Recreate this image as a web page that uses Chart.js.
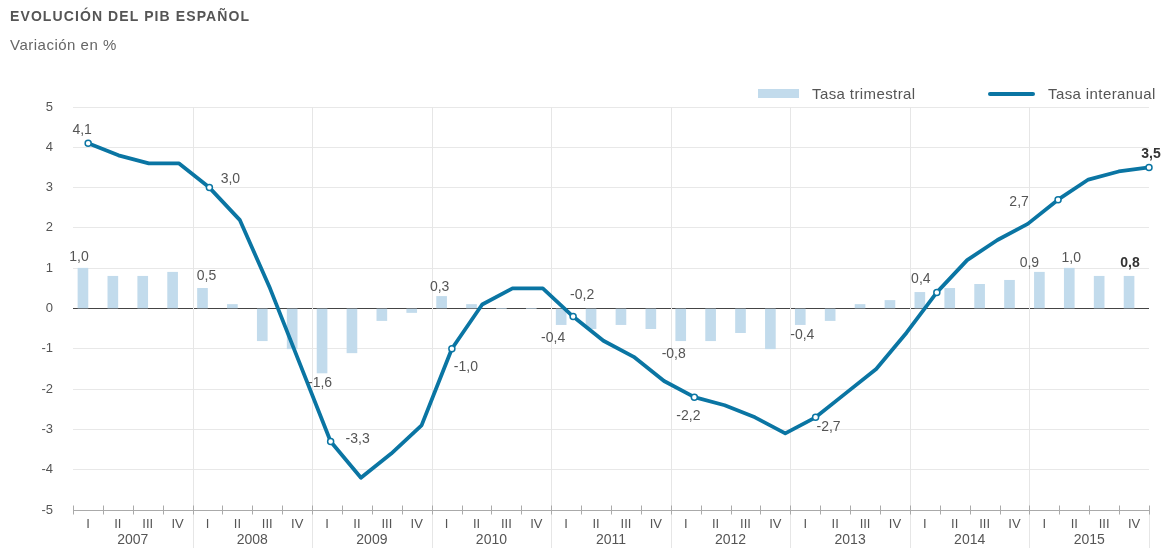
<!DOCTYPE html>
<html>
<head>
<meta charset="utf-8">
<script src="https://cdn.jsdelivr.net/npm/chart.js@4.4.1/dist/chart.umd.min.js"></script>
<style>
html,body{margin:0;padding:0;background:#fff;}
#wrap{position:relative;width:1165px;height:548px;font-family:"Liberation Sans",Arial,sans-serif;overflow:hidden;}
#title{position:absolute;left:10px;top:8px;font-weight:bold;font-size:14px;color:#555;letter-spacing:1.1px;}
#sub{position:absolute;left:10px;top:36px;font-size:15px;color:#666;letter-spacing:0.5px;}
#c{position:absolute;left:0;top:0;}
.lt{position:absolute;top:85px;font-size:15px;color:#555;line-height:17px;letter-spacing:0.4px;}
.sw{position:absolute;}
</style>
</head>
<body>
<div id="wrap">
  <canvas id="c" width="1165" height="548"></canvas>
  <div id="title">EVOLUCIÓN DEL PIB ESPAÑOL</div>
  <div id="sub">Variación en %</div>
  <div class="sw" style="left:758px;top:89px;width:41px;height:9px;background:#c2dbec;"></div>
  <div class="lt" style="left:812px;">Tasa trimestral</div>
  <div class="sw" style="left:988px;top:92px;width:47px;height:4px;background:#0a75a3;border-radius:2px;"></div>
  <div class="lt" style="left:1048px;">Tasa interanual</div>
</div>
<script>
// ---- data ----
const years = ['2007','2008','2009','2010','2011','2012','2013','2014','2015'];
const quarters = ['I','II','III','IV'];
const quarterLabels = years.flatMap(() => quarters);

// Tasa trimestral (bars)
const trimestral = [
  1.0, 0.8, 0.8, 0.9,
  0.5, 0.1, -0.8, -1.0,
  -1.6, -1.1, -0.3, -0.1,
  0.3, 0.1, 0.0, 0.0,
  -0.4, -0.5, -0.4, -0.5,
  -0.8, -0.8, -0.6, -1.0,
  -0.4, -0.3, 0.1, 0.2,
  0.4, 0.5, 0.6, 0.7,
  0.9, 1.0, 0.8, 0.8
];

// Tasa interanual (line)
const interanual = [
  4.1, 3.8, 3.6, 3.6,
  3.0, 2.2, 0.5, -1.4,
  -3.3, -4.2, -3.6, -2.9,
  -1.0, 0.1, 0.5, 0.5,
  -0.2, -0.8, -1.2, -1.8,
  -2.2, -2.4, -2.7, -3.1,
  -2.7, -2.1, -1.5, -0.6,
  0.4, 1.2, 1.7, 2.1,
  2.7, 3.2, 3.4, 3.5
];

const yTicks = [-5,-4,-3,-2,-1,0,1,2,3,4,5];

// which points are marked / labelled
const lineMarked = [0,4,8,12,16,20,24,28,32,35];
const barMarked = [0,4,8,12,16,20,24,32,33,35];

// ---- styles ----
const BAR_COLOR = '#c2dbec';
const LINE_COLOR = '#0a75a3';
const TEXT = '#555';
const FONT = '"Liberation Sans", Arial, sans-serif';

const lineLabelStyle = {
  0:[-6,-13], 4:[21,-8], 8:[27,-2], 12:[14,18], 16:[9,-21],
  20:[-6,19], 24:[13,10], 28:[-16,-13], 32:[-39,2], 35:[2,-13,true]
};
const barLabelStyle = {
  0:[-4,-11], 4:[4,-12], 8:[-2,10], 12:[-2,-9], 16:[-8,14],
  20:[-7,13], 24:[2,11], 32:[-10,-9], 33:[2,-10], 35:[1,-13,true]
};

const fmt = v => v.toFixed(1).replace('.', ',');

const decor = {
  id: 'decor',
  beforeDatasetsDraw(chart) {
    const {ctx, chartArea, scales} = chart;
    const x = scales.x;
    ctx.save();
    ctx.strokeStyle = '#e6e6e6';
    ctx.lineWidth = 1;
    for (let k = 1; k < years.length; k++) {
      const px = Math.round((x.getPixelForTick(4*k-1) + x.getPixelForTick(4*k)) / 2) + 0.5;
      ctx.beginPath();
      ctx.moveTo(px, chartArea.top);
      ctx.lineTo(px, 548);
      ctx.stroke();
    }
    const rx = Math.round(chartArea.right) + 0.5;
    ctx.beginPath();
    ctx.moveTo(rx, chartArea.bottom);
    ctx.lineTo(rx, 548);
    ctx.stroke();
    ctx.restore();
  },
  afterDatasetsDraw(chart) {
    const {ctx, chartArea, scales} = chart;
    const x = scales.x;
    ctx.save();
    // axis line + tick marks
    const ay = Math.round(chartArea.bottom) + 0.5;
    ctx.strokeStyle = '#aaa';
    ctx.lineWidth = 1;
    ctx.beginPath();
    ctx.moveTo(chartArea.left, ay);
    ctx.lineTo(chartArea.right, ay);
    ctx.stroke();
    for (let i = 0; i <= quarterLabels.length; i++) {
      let px;
      if (i === 0) px = chartArea.left;
      else if (i === quarterLabels.length) px = chartArea.right;
      else px = (x.getPixelForTick(i-1) + x.getPixelForTick(i)) / 2;
      px = Math.round(px) + 0.5;
      ctx.beginPath();
      ctx.moveTo(px, ay - 5);
      ctx.lineTo(px, ay + 4);
      ctx.stroke();
    }
    // quarter labels
    ctx.fillStyle = TEXT;
    ctx.textAlign = 'center';
    ctx.textBaseline = 'middle';
    ctx.font = '13px ' + FONT;
    quarterLabels.forEach((q, i) => {
      ctx.fillText(q, x.getPixelForTick(i), 524);
    });
    ctx.font = '14px ' + FONT;
    years.forEach((yr, k) => {
      const px = (x.getPixelForTick(4*k+1) + x.getPixelForTick(4*k+2)) / 2;
      ctx.fillText(yr, px, 540);
    });

    // data labels
    const barMeta = chart.getDatasetMeta(0);
    const lineMeta = chart.getDatasetMeta(1);
    barMarked.forEach(i => {
      const el = barMeta.data[i];
      const st = barLabelStyle[i];
      ctx.font = (st[2] ? 'bold ' : '') + '14px ' + FONT;
      ctx.fillStyle = st[2] ? '#333' : TEXT;
      ctx.fillText(fmt(trimestral[i]), el.x + st[0], el.y + st[1]);
    });
    lineMarked.forEach(i => {
      const el = lineMeta.data[i];
      const st = lineLabelStyle[i];
      ctx.font = (st[2] ? 'bold ' : '') + '14px ' + FONT;
      ctx.fillStyle = st[2] ? '#333' : TEXT;
      ctx.fillText(fmt(interanual[i]), el.x + st[0], el.y + st[1]);
    });
    ctx.restore();
  }
};

new Chart(document.getElementById('c'), {
  data: {
    labels: quarterLabels,
    datasets: [
      {
        type: 'bar',
        label: 'Tasa trimestral',
        data: trimestral,
        backgroundColor: BAR_COLOR,
        borderWidth: 0,
        barThickness: 10,
        order: 2,
        xAxisID: 'x',
        yAxisID: 'y'
      },
      {
        type: 'line',
        label: 'Tasa interanual',
        data: interanual.map((v, i) => ({x: i, y: v})),
        borderColor: LINE_COLOR,
        borderWidth: 3.8,
        tension: 0,
        borderJoinStyle: 'round',
        pointRadius: ctx => lineMarked.includes(ctx.dataIndex) ? 3 : 0,
        pointBackgroundColor: '#fff',
        pointBorderColor: LINE_COLOR,
        pointBorderWidth: 1.5,
        clip: false,
        order: 1,
        xAxisID: 'xl',
        yAxisID: 'y'
      }
    ]
  },
  options: {
    responsive: false,
    animation: false,
    events: [],
    layout: { padding: { top: 107, right: 16, bottom: 0, left: 0 } },
    plugins: { legend: { display: false }, tooltip: { enabled: false }, title: { display: false } },
    scales: {
      x: {
        type: 'category',
        offset: true,
        grid: { display: false, drawTicks: false },
        border: { display: false },
        ticks: { display: false },
        afterFit: s => { s.height = 38; }
      },
      xl: {
        type: 'linear',
        display: false,
        min: -0.5,
        max: 35
      },
      y: {
        min: -5,
        max: 5,
        afterBuildTicks: s => { s.ticks = yTicks.map(v => ({value: v})); },
        ticks: {
          color: TEXT,
          font: { family: FONT, size: 13 },
          padding: 20,
          callback: v => String(v)
        },
        grid: {
          color: ctx => ctx.tick && ctx.tick.value === 0 ? '#444' : '#e8e8e8',
          lineWidth: 1,
          drawTicks: false
        },
        border: { display: false },
        afterFit: s => { s.width = 73; }
      }
    }
  },
  plugins: [decor]
});
</script>
</body>
</html>
